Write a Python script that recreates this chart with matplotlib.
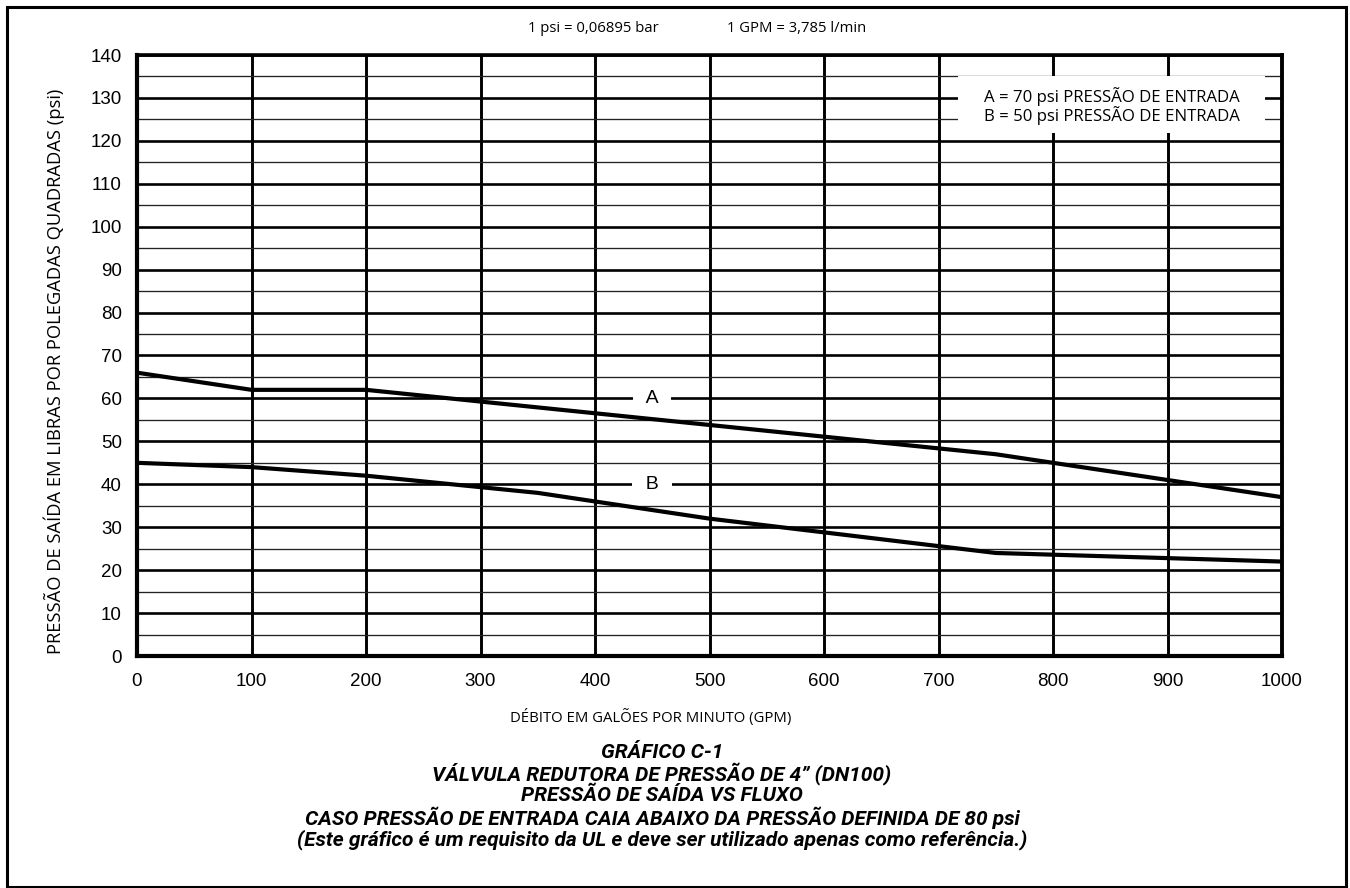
import numpy as np
import matplotlib
matplotlib.use("Agg")
import matplotlib.pyplot as plt
from matplotlib.patches import Rectangle

# Flow (GPM) vs outlet pressure (psi) for the two inlet pressures
flow_a = [0, 100, 200, 750, 1000]
press_a = [66, 62, 62, 47, 37]
flow_b = [0, 100, 200, 350, 500, 750, 1000]
press_b = [45, 44, 42, 38, 32, 24, 22]

x_ticks = list(range(0, 1001, 100))
y_ticks = list(range(0, 141, 10))

legend_lines = ["A = 70 psi PRESSÃO DE ENTRADA", "B = 50 psi PRESSÃO DE ENTRADA"]
title_lines = [
    "GRÁFICO C-1",
    "VÁLVULA REDUTORA DE PRESSÃO DE 4\u201d (DN100)",
    "PRESSÃO DE SAÍDA VS FLUXO",
    "CASO PRESSÃO DE ENTRADA CAIA ABAIXO DA PRESSÃO DEFINIDA DE 80 psi",
    "(Este gráfico é um requisito da UL e deve ser utilizado apenas como referência.)",
]

W, H = 1350, 888
fig = plt.figure(figsize=(W / 100, H / 100), dpi=100)
fig.patch.set_facecolor("white")

# plot area in pixels
left, right, top, bottom = 137, 1282, 55, 656
ax = fig.add_axes([left / W, 1 - bottom / H, (right - left) / W, (bottom - top) / H])

ax.set_xlim(0, 1000)
ax.set_ylim(0, 140)
ax.set_xticks(x_ticks)
ax.set_yticks(y_ticks)
ax.set_yticks(np.arange(5, 140, 10), minor=True)

ax.grid(which="major", axis="y", color="black", lw=1.9, zorder=1)
ax.grid(which="minor", axis="y", color="#222222", lw=0.95, zorder=1)
ax.grid(which="major", axis="x", color="black", lw=2.1, zorder=1)
ax.set_axisbelow(True)

for side, lw in [("left", 3.0), ("bottom", 3.0), ("top", 2.6), ("right", 2.8)]:
    ax.spines[side].set_linewidth(lw)
    ax.spines[side].set_color("black")

ax.tick_params(which="both", length=0)
ax.tick_params(axis="x", pad=12, labelsize=13.5)
ax.tick_params(axis="y", pad=11, labelsize=13.5)
for lab in ax.get_xticklabels() + ax.get_yticklabels():
    lab.set_fontfamily("Liberation Sans")

ax.plot(flow_a, press_a, color="black", lw=3.0, solid_joinstyle="miter", zorder=4)
ax.plot(flow_b, press_b, color="black", lw=3.0, solid_joinstyle="miter", zorder=4)

# curve letters sit on the 60 and 40 psi grid lines
for letter, yv in [("A", 60), ("B", 40)]:
    ax.text(450, yv, "  " + letter + "  ", ha="center", va="center", fontsize=14,
            family="Liberation Sans", zorder=5,
            bbox=dict(boxstyle="square,pad=0.15", fc="white", ec="none"))

# white panel behind the legend text
ax.add_patch(Rectangle((717, 121.8), 268, 13.4, fc="white", ec="none", zorder=3))
ax.text(851.5, 128.1, "\n".join(legend_lines), ha="center", va="center",
        fontsize=12.1, linespacing=1.02, family="Open Sans", zorder=5)

ax.set_ylabel("PRESSÃO DE SAÍDA EM LIBRAS POR POLEGADAS QUADRADAS (psi)",
              family="Open Sans", fontsize=13.2, labelpad=0)
ax.yaxis.set_label_coords(-(left - 65) / (right - left), 1 - (371 - top) / (bottom - top))

fig.text(593 / W, 1 - 28 / H, "1 psi = 0,06895 bar", ha="center", va="center",
         family="Open Sans", fontsize=10.7)
fig.text(797 / W, 1 - 28 / H, "1 GPM = 3,785 l/min", ha="center", va="center",
         family="Open Sans", fontsize=10.7)

fig.text(651 / W, 1 - 717 / H, "DÉBITO EM GALÕES POR MINUTO (GPM)", ha="center",
         va="center", family="Open Sans", fontsize=10.7)

for i, line in enumerate(title_lines):
    fig.text(662 / W, 1 - (752 + 21.8 * i) / H, line, ha="center", va="center",
             family="Roboto", fontweight="bold", fontstyle="italic", fontsize=15)

# outer frame
fig.patches.append(Rectangle((7 / W, 1 / H), (1346 - 7) / W, (881 - 1) / H,
                             transform=fig.transFigure, fill=False, ec="black",
                             lw=2.2, clip_on=False))

fig.savefig("out.png", dpi=100, facecolor="white")
